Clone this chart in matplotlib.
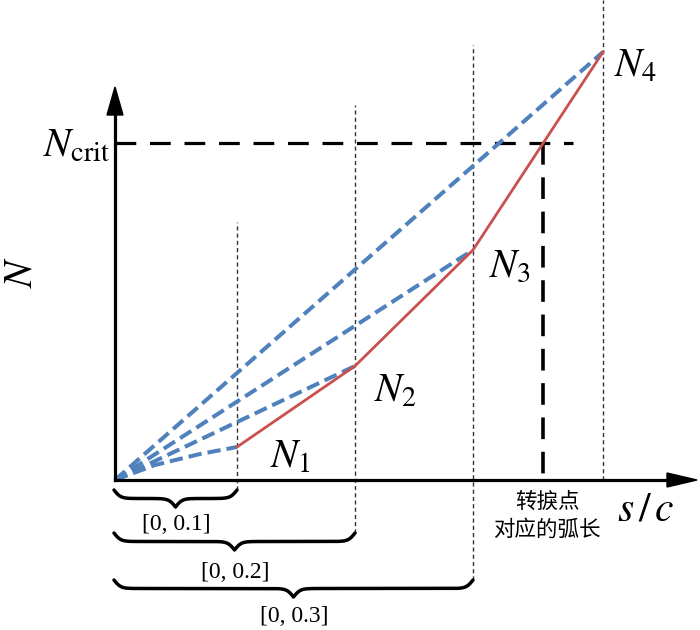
import numpy as np
import matplotlib
matplotlib.use("Agg")
import matplotlib.pyplot as plt

plt.rcParams['mathtext.fontset'] = 'stix'
plt.rcParams['font.family'] = ['Liberation Serif', 'DejaVu Serif']

# chart values (drawing units, origin at the axes corner)
s_stations = [122, 240, 358, 488]
N_stations = [33, 114, 230, 428]
N_crit = 337
# the first blue chord bends a little near the origin
s_first = [0, 40, 85, 122]
N_first = [0, 15, 26, 33]
station_labels = [r'$N_1$', r'$N_2$', r'$N_3$', r'$N_4$']
range_labels = ['[0, 0.1]', '[0, 0.2]', '[0, 0.3]']

BLUE = '#4f81bd'
RED = '#c9504d'


def draw_brace(ax, x0, x1, y_top, height, beta=0.3):
    xs = np.linspace(x0, x1, 401)
    half = xs[:201]
    yh = (1 / (1 + np.exp(-beta * (half - half[0])))
          + 1 / (1 + np.exp(-beta * (half - half[-1]))))
    ys = np.concatenate((yh, yh[-2::-1]))
    ax.plot(xs, y_top - (ys - 0.5) * height, color='black', lw=2.5,
            solid_capstyle='round')


fig = plt.figure(figsize=(7, 6.3), dpi=100)
ax = fig.add_axes([0, 0, 1, 1])
ax.set_xlim(-115, 585)
ax.set_ylim(-150, 480)
ax.axis('off')

# thin dotted verticals at each station
tops = [258, 375, 435, 480]
bottoms = [-10, -53, -100, 0]
for s, top, bot in zip(s_stations, tops, bottoms):
    ax.plot([s, s], [bot, top], color='#333333', lw=1.0,
            dashes=(3.0, 2.2), zorder=1)

# critical level and transition point
s_trans = np.interp(N_crit, N_stations[2:], s_stations[2:])
ax.plot([0, s_trans + 30], [N_crit, N_crit], color='black', lw=2.3,
        dashes=(6.5, 4.3), zorder=2)
ax.plot([s_trans, s_trans], [N_crit, 0], color='black', lw=2.6,
        dashes=(6.0, 3.5), zorder=2)

# blue chords from the origin
ax.plot(s_first, N_first, color=BLUE, lw=2.9, dashes=(3.3, 1.5), zorder=3)
for s, n in zip(s_stations[1:], N_stations[1:]):
    ax.plot([0, s], [0, n], color=BLUE, lw=2.9, dashes=(3.3, 1.5), zorder=3)

# red curve through the stations
ax.plot(s_stations, N_stations, color=RED, lw=2.0, zorder=4)

# axes with arrowheads
ax.plot([0, 0], [0, 368], color='black', lw=2.3, zorder=5)
ax.fill([-8, 8, 0], [365, 365, 393], color='black', zorder=5)
ax.plot([0, 555], [0, 0], color='black', lw=2.3, zorder=5)
ax.fill([552, 552, 582], [7, -7, 0], color='black', zorder=5)

# labels
label_pos = [(175, 22), (280, 88), (395, 213), (521, 413)]
for lab, (x, y) in zip(station_labels, label_pos):
    ax.text(x, y, lab, fontsize=29, ha='center', va='center')
ax.text(-38, 333, r'$N_{\mathrm{crit}}$', fontsize=29, ha='center', va='center')
ax.text(-93, 208, r'$N$', fontsize=29, ha='center', va='center', rotation=90)
ax.text(531, -30, r'$s\,/\,c$', fontsize=30, ha='center', va='center')
ax.text(432, -36, '转捩点\n对应的弧长', fontsize=15.5, ha='center', va='center',
        family=['Noto Sans CJK SC', 'DejaVu Sans'], linespacing=1.35)

# range braces
brace_tops = [-10, -53, -100]
label_y = [-45, -93, -137]
for s, top, lab, ly in zip(s_stations[:3], brace_tops, range_labels, label_y):
    draw_brace(ax, -1, s, top, 17)
    ax.text(s / 2, ly, lab, fontsize=17, ha='center', va='center')

fig.savefig('out.png', dpi=100)
